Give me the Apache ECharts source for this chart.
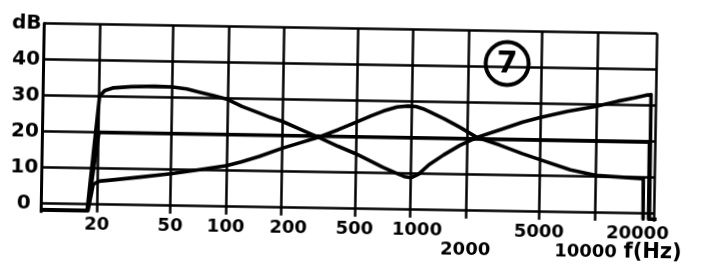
<!DOCTYPE html>
<html><head><meta charset="utf-8">
<script src="https://cdn.jsdelivr.net/npm/echarts@6/dist/echarts.min.js"></script>
<style>
html,body{margin:0;padding:0;background:#fff;overflow:hidden}
#c{width:708px;height:265px;background:#fff;transform:rotate(0.95deg);transform-origin:354px 132.5px;}
</style>
</head><body><div id="c"></div>
<script>
// ---- data ----
const freqGrid = [20, 50, 100, 200, 500, 1000, 2000, 5000, 10000, 21000];
const freqLabels = [20, 50, 100, 200, 500, 1000, 2000, 5000, 10000, 20000];
const dbTicks = [0, 10, 20, 30, 40, 50];
const yLabelTop = 'dB';
const xName = 'f(Hz)';
const badge = '7';

// curve A: bass + treble boost
const curveA = [[10,-1.8],[17.7,-1.8],[20.2,30],[21.5,31.6],[24,32.4],[30,32.8],[40,33],[50,32.9],[60,32.4],[70,31.6],[85,30.6],[100,29.7],[120,27.8],[150,26],[171,24.9],[200,23.8],[250,21.7],[320,19.4],[400,17.2],[500,15.2],[600,13.3],[700,11.6],[830,10],[920,9.1],[1000,8.8],[1100,9.8],[1250,12.5],[1500,15.3],[1830,18],[2260,20.3],[3000,22.5],[4000,24.8],[5000,26.2],[7000,28],[10000,29.5],[13000,31],[16000,32],[18500,32.8],[19700,33],[19800,-1.6],[28000,-1.6]];
// curve B: midrange boost
const curveB = [[10,-1.8],[17.9,-1.8],[19,5.5],[20.5,6.4],[25,6.9],[35,7.8],[50,8.8],[70,10],[100,11.3],[120,12.4],[150,14],[200,16.4],[250,18],[320,19.8],[400,21.8],[500,24],[600,25.8],[700,27.2],[830,28.4],[950,28.7],[1050,28.6],[1150,28],[1250,27.2],[1500,25.3],[1830,23],[2260,20.3],[3000,18.3],[4000,16],[5000,14.4],[7300,11.7],[10000,10.3],[15000,9.8],[18200,9.6],[18300,-1.6]];
// curve C: flat
const curveC = [[10,-1.8],[17.8,-1.8],[20.2,20],[19500,19.8],[19600,-1.6]];

const FONT = 'DejaVu Sans';
const chart = echarts.init(document.getElementById('c'), null, {renderer:'canvas'});

const lineStyle = {color:'#000', width:3.6, join:'round', cap:'round'};
function mk(name, data){
  return {name, type:'line', data, showSymbol:false, symbol:'none', clip:false,
    lineStyle, silent:true, animation:false};
}
const lbl = {fontFamily:FONT, fontWeight:'bold', fontSize:18, lineHeight:18.5, color:'#000'};
const labelValues = freqLabels.concat([20900]); // trailing empty label so no real label is treated as the max one

chart.setOption({
  animation:false,
  backgroundColor:'#fff',
  grid:{left:42.7, top:28.5, right:52.5, bottom:48.3, containLabel:false, outerBoundsMode:'none'},
  xAxis:{
    type:'log', logBase:10, min:10, max:21000,
    axisLine:{show:false},
    axisTick:{show:false, customValues:freqGrid},
    splitLine:{show:true, lineStyle:{color:'#000', width:2.5}},
    axisLabel:Object.assign({
      customValues:labelValues, margin:3.5, interval:0, hideOverlap:false,
      formatter:function(v){
        v = Math.round(v);
        if (freqLabels.indexOf(v) < 0) return '';
        if (v === 2000) return '\n2000';
        if (v === 10000) return '\n{l|10000}';
        if (v === 200 || v === 1000) return '{r|' + v + '}';
        if (v === 20000) return '{ll|20000}';
        return String(v);
      },
      rich:{
        r:Object.assign({padding:[0,0,0,14]}, lbl),
        l:Object.assign({padding:[0,17,0,0]}, lbl),
        ll:Object.assign({padding:[0,25,0,0]}, lbl)
      }
    }, lbl),
    name:'\n' + xName, nameLocation:'end', nameGap:-30, nameMoveOverlap:false,
    nameTextStyle:{color:'#000', fontFamily:FONT, fontWeight:'bold', fontSize:21, lineHeight:26, verticalAlign:'top', align:'left'}
  },
  yAxis:{
    type:'value', min:-2.3, max:50,
    axisLine:{show:true, lineStyle:{color:'#000', width:3}},
    axisTick:{show:false, customValues:dbTicks},
    splitLine:{show:true, lineStyle:{color:'#000', width:2.6}},
    axisLabel:{
      customValues:dbTicks, align:'center', margin:17.7, color:'#000',
      fontFamily:FONT, fontWeight:'bold', fontSize:20,
      formatter:function(v){ return v === 50 ? yLabelTop : String(v); }
    }
  },
  graphic:[
    {type:'circle', shape:{cx:506, cy:61, r:21.5}, style:{fill:'none', stroke:'#000', lineWidth:4}, silent:true},
    {type:'text', x:506, y:62, style:{text:badge, align:'center', verticalAlign:'middle', fill:'#000', font:'bold 30px "DejaVu Sans"'}, silent:true}
  ],
  series:[mk('A', curveA), mk('B', curveB), mk('C', curveC)]
});
</script>
</body></html>
